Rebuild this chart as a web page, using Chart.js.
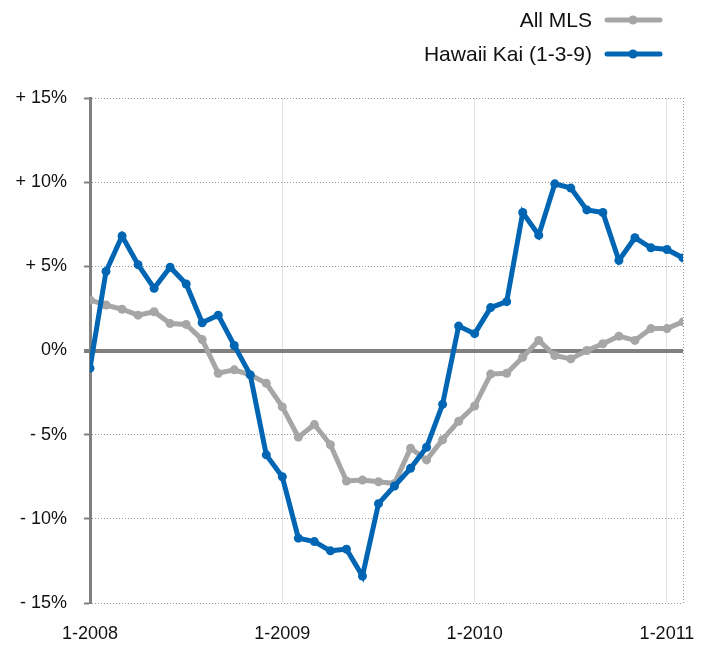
<!DOCTYPE html>
<html>
<head>
<meta charset="utf-8">
<script src="https://cdn.jsdelivr.net/npm/chart.js@4"></script>
<style>
  html, body { margin: 0; padding: 0; background: #fff; }
  #wrap { width: 707px; height: 645px; position: relative; }
</style>
</head>
<body>
<div id="wrap"><canvas id="mlsChart"></canvas></div>
<script>
// month labels, Jan 2008 .. Feb 2011
const months = [
  '1-2008', '2-2008', '3-2008', '4-2008', '5-2008', '6-2008', '7-2008', '8-2008', '9-2008', '10-2008', '11-2008', '12-2008',
  '1-2009', '2-2009', '3-2009', '4-2009', '5-2009', '6-2009', '7-2009', '8-2009', '9-2009', '10-2009', '11-2009', '12-2009',
  '1-2010', '2-2010', '3-2010', '4-2010', '5-2010', '6-2010', '7-2010', '8-2010', '9-2010', '10-2010', '11-2010', '12-2010',
  '1-2011', '2-2011'
];

// % change
const allMls = [3.0, 2.7, 2.45, 2.1, 2.3, 1.6, 1.55, 0.65, -1.35, -1.15, -1.45, -1.95,
  -3.35, -5.15, -4.4, -5.6, -7.75, -7.7, -7.8, -7.9, -5.8, -6.5, -5.3, -4.2,
  -3.3, -1.4, -1.35, -0.4, 0.6, -0.3, -0.5, 0.0, 0.4, 0.85, 0.6, 1.3, 1.3, 1.7];

const hawaiiKai = [-1.05, 4.7, 6.8, 5.1, 3.7, 4.95, 3.95, 1.65, 2.1, 0.3, -1.45, -6.2,
  -7.5, -11.15, -11.35, -11.9, -11.8, -13.4, -9.1, -8.05, -7.0, -5.75, -3.2, 1.45,
  1.0, 2.55, 2.9, 8.2, 6.85, 9.9, 9.65, 8.35, 8.2, 5.35, 6.7, 6.1, 6.0, 5.5];

const yTicks = [-15, -10, -5, 0, 5, 10, 15];
const yTickLabels = ['- 15%', '- 10%', '- 5%', '0%', '+ 5%', '+ 10%', '+ 15%'];
const xTickMonths = ['1-2008', '1-2009', '1-2010', '1-2011'];

const seriesNames = ['All MLS', 'Hawaii Kai (1-3-9)'];
const seriesColors = ['#a6a6a6', '#0066b3'];

const FONT = '"Liberation Sans", Arial, Helvetica, sans-serif';
const lastIdx = months.length - 1;

// legend in the top right: text, then a line sample with a dot
const sideLegend = {
  id: 'sideLegend',
  afterDraw(chart) {
    const ctx = chart.ctx;
    ctx.save();
    ctx.font = '21px ' + FONT;
    ctx.textAlign = 'right';
    ctx.textBaseline = 'middle';
    seriesNames.forEach((name, i) => {
      const y = 20 + i * 34;
      ctx.fillStyle = '#111';
      ctx.fillText(name, 592, y + 1);
      ctx.strokeStyle = seriesColors[i];
      ctx.lineWidth = 5;
      ctx.lineCap = 'round';
      ctx.beginPath();
      ctx.moveTo(607, y);
      ctx.lineTo(660, y);
      ctx.stroke();
      ctx.fillStyle = seriesColors[i];
      ctx.beginPath();
      ctx.arc(633, y, 4.5, 0, Math.PI * 2);
      ctx.fill();
    });
    ctx.restore();
  }
};

const ctx = document.getElementById('mlsChart').getContext('2d');
const chart = new Chart(ctx, {
  type: 'line',
  data: {
    datasets: [
      {
        label: seriesNames[1],
        data: hawaiiKai.map((v, i) => ({ x: i, y: v })),
        borderColor: seriesColors[1],
        backgroundColor: seriesColors[1],
        borderWidth: 5,
        pointRadius: 4.5,
        pointBorderWidth: 0,
        tension: 0,
        order: 0
      },
      {
        label: seriesNames[0],
        data: allMls.map((v, i) => ({ x: i, y: v })),
        borderColor: seriesColors[0],
        backgroundColor: seriesColors[0],
        borderWidth: 5,
        pointRadius: 4.5,
        pointBorderWidth: 0,
        tension: 0,
        order: 1
      }
    ]
  },
  options: {
    responsive: true,
    maintainAspectRatio: false,
    animation: false,
    layout: { padding: { top: 98, right: 24, left: 0, bottom: 0 } },
    plugins: {
      legend: { display: false },
      tooltip: { enabled: false }
    },
    scales: {
      x: {
        type: 'linear',
        min: 0,
        max: lastIdx,
        afterBuildTicks: scale => {
          const vals = xTickMonths.map(m => months.indexOf(m));
          vals.push(lastIdx);
          scale.ticks = vals.map(v => ({ value: v }));
        },
        afterFit: scale => { scale.height = 42; },
        ticks: {
          autoSkip: false,
          maxRotation: 0,
          padding: 20,
          color: '#111',
          font: { family: FONT, size: 18 },
          callback: v => (v === lastIdx ? '' : months[v])
        },
        grid: {
          drawTicks: false,
          color: c => {
            const v = c.tick ? c.tick.value : null;
            if (v === 0) return 'rgba(0,0,0,0)';
            if (v === lastIdx) return '#999';
            return '#e2e2e2';
          },
          lineWidth: 1
        },
        border: {
          display: false,
          dash: c => (c.tick && c.tick.value === lastIdx ? [1, 2] : [])
        }
      },
      y: {
        min: -15,
        max: 15,
        afterBuildTicks: scale => {
          scale.ticks = yTicks.map(v => ({ value: v }));
        },
        afterFit: scale => { scale.width = 90; },
        ticks: {
          padding: 17,
          color: '#111',
          font: { family: FONT, size: 18 },
          callback: v => yTickLabels[yTicks.indexOf(v)]
        },
        grid: {
          tickLength: 6,
          tickColor: '#808080',
          tickWidth: c => (c.tick && c.tick.value === 0 ? 4 : 2),
          color: c => (c.tick && c.tick.value === 0 ? '#808080' : '#999'),
          lineWidth: c => (c.tick && c.tick.value === 0 ? 4 : 1)
        },
        border: {
          display: true,
          color: '#808080',
          width: 3,
          dash: c => (c.tick && c.tick.value === 0 ? [] : [1, 2])
        }
      }
    }
  },
  plugins: [sideLegend]
});
</script>
</body>
</html>
